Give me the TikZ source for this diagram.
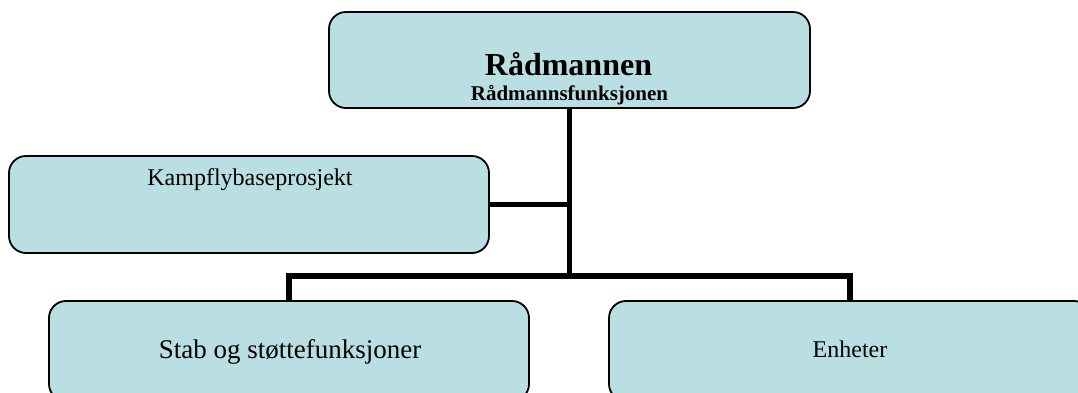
\documentclass[tikz,border=0pt]{standalone}
\usepackage{fontspec}
\setmainfont{Liberation Serif}
\definecolor{boxfill}{RGB}{185,223,226}
\begin{document}
\begin{tikzpicture}[x=1pt,y=-1pt,
  orgbox/.style={draw=black,line width=1.8pt,fill=boxfill,rounded corners=17pt,
    rectangle,inner sep=0pt,minimum width=480pt,minimum height=97pt},
  conn/.style={draw=black,line width=5.5pt},
  lbl/.style={anchor=base,inner sep=0pt}]
\useasboundingbox (0,0) rectangle (1078,392);
\clip (0,0) rectangle (1078,392);
\fill[white] (0,0) rectangle (1078,392);
\coordinate (bus) at (569.5,276);
\node[orgbox,minimum width=481pt,minimum height=96pt] (top) at (569.5,60) {};
\node[orgbox] (kamp) at (249,204.5) {};
\node[orgbox,minimum height=100pt] (stab) at (289,351) {};
\node[orgbox,minimum width=482pt,minimum height=100pt] (enh) at (850,351) {};
\draw[conn] (top.south) -- (bus);
\draw[conn] (kamp.east) -- (kamp.east -| top.south);
\draw[conn] (stab.north) |- (bus) -| (enh.north);
\node[lbl,font=\fontsize{32}{36}\selectfont\bfseries] (t1) at (568.5,75) {Rådmannen};
\node[lbl,font=\fontsize{21}{24}\selectfont\bfseries] (t2) at (569.5,100) {Rådmannsfunksjonen};
\node[lbl,font=\fontsize{24}{28}\selectfont] (t3) at (250,185) {Kampflybaseprosjekt};
\node[lbl,font=\fontsize{27}{30}\selectfont] (t4) at (290,358) {Stab og støttefunksjoner};
\node[lbl,font=\fontsize{24}{28}\selectfont] (t5) at (850,357) {Enheter};
\end{tikzpicture}
\end{document}
